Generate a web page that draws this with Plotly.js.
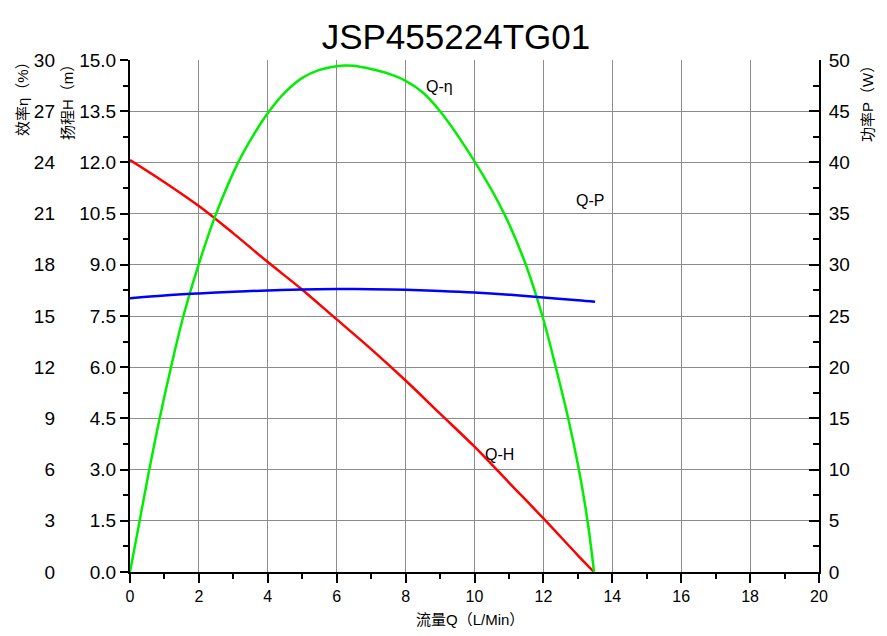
<!DOCTYPE html>
<html>
<head>
<meta charset="utf-8">
<script src="https://cdn.plot.ly/plotly-3.0.1.min.js"></script>
<style>
  html, body { margin: 0; padding: 0; background: #fff; }
  #chart { width: 887px; height: 636px; }
</style>
</head>
<body>
<div id="chart"></div>
<script>
// Q-H curve (flow L/Min -> head m)
const flowH = [0, 1, 2, 3, 4, 5, 6, 7, 8, 9, 10, 11, 12, 13, 13.47];
const head = [12.07, 11.42, 10.72, 9.92, 9.08, 8.27, 7.40, 6.53, 5.61, 4.64, 3.67, 2.62, 1.57, 0.49, 0];

// Q-eta curve (flow -> efficiency %)
const flowEff = [0, 0.28, 0.56, 0.86, 1.19, 1.55, 1.99, 2.5, 3.14, 3.6, 4.04, 4.5, 5, 5.5, 6, 6.24, 6.5, 7, 7.5, 8, 8.5, 9.0, 10.02, 10.86, 11.49, 11.97, 12.36, 12.72, 13.03, 13.28, 13.47];
const efficiency = [0, 3, 6, 9, 12, 15, 18, 21, 24, 25.66, 27, 28.1, 28.95, 29.42, 29.64, 29.68, 29.66, 29.47, 29.2, 28.78, 28.1, 27, 24, 21, 18, 15, 12, 9, 6, 3, 0];

// Q-P curve (flow -> power W)
const flowP = [0, 1, 2, 3, 4, 5, 6, 7, 8, 9, 10, 11, 12, 13, 13.5];
const power = [26.73, 27.0, 27.2, 27.37, 27.5, 27.6, 27.64, 27.62, 27.56, 27.45, 27.3, 27.08, 26.8, 26.55, 26.4];

const chartTitle = 'JSP455224TG01';
const FONT = '"Liberation Sans", Arial, "Noto Sans CJK SC", sans-serif';
const GRID = '#8c8c8c';

const traces = [
  {
    type: 'scatter', mode: 'lines', name: 'Q-H',
    x: flowH, y: head, xaxis: 'x', yaxis: 'y',
    line: { color: '#ff0000', width: 2.5, shape: 'spline', smoothing: 1 }
  },
  {
    type: 'scatter', mode: 'lines', name: 'Q-η',
    x: flowEff, y: efficiency, xaxis: 'x', yaxis: 'y2',
    line: { color: '#00ee00', width: 2.5, shape: 'spline', smoothing: 1 }
  },
  {
    type: 'scatter', mode: 'lines', name: 'Q-P',
    x: flowP, y: power, xaxis: 'x', yaxis: 'y3',
    line: { color: '#0000ff', width: 2.5, shape: 'spline', smoothing: 1 }
  }
];

const xTickFont = { family: FONT, size: 16, color: '#000' };
const yTickFont = { family: FONT, size: 19, color: '#000' };
const axisTitleFont = { family: FONT, size: 15, color: '#000' };
const curveLabelFont = { family: FONT, size: 16, color: '#000' };

const layout = {
  width: 887,
  height: 636,
  margin: { l: 40, r: 68, t: 60, b: 64 },
  paper_bgcolor: '#fff',
  plot_bgcolor: '#fff',
  showlegend: false,
  font: { family: FONT, color: '#000' },
  title: {
    text: chartTitle,
    font: { family: FONT, size: 35, color: '#000' },
    x: 0.514, xanchor: 'center', xref: 'container',
    y: 0.942, yanchor: 'middle', yref: 'container'
  },
  xaxis: {
    domain: [90 / 779, 1],
    range: [0, 20], dtick: 2, tick0: 0,
    ticks: 'outside', ticklen: 9, tickwidth: 2, tickcolor: '#000',
    minor: { dtick: 1, ticks: 'outside', ticklen: 5, tickwidth: 2, tickcolor: '#000', showgrid: false },
    showline: true, linewidth: 2, linecolor: '#000',
    showgrid: true, gridcolor: GRID, gridwidth: 1,
    zeroline: false, anchor: 'y',
    tickfont: xTickFont
  },
  xaxis2: {
    overlaying: 'x', side: 'top', anchor: 'y',
    range: [0, 20], dtick: 1, tick0: 0,
    ticks: 'inside', ticklen: 6, tickwidth: 2, tickcolor: '#000',
    showticklabels: false,
    showline: true, linewidth: 2, linecolor: '#000',
    showgrid: false, zeroline: false
  },
  yaxis: {
    range: [0, 15], dtick: 1.5, tick0: 0, tickformat: '.1f',
    ticks: 'outside', ticklen: 8, tickwidth: 2, tickcolor: '#000',
    minor: { dtick: 0.75, ticks: 'outside', ticklen: 5, tickwidth: 2, tickcolor: '#000', showgrid: false },
    showline: true, linewidth: 2, linecolor: '#000',
    showgrid: true, gridcolor: GRID, gridwidth: 1,
    zeroline: false, anchor: 'x',
    tickfont: yTickFont
  },
  yaxis2: {
    overlaying: 'y', side: 'left', anchor: 'free', position: 15 / 779,
    range: [0, 30], dtick: 3, tick0: 0,
    ticks: '', showline: false, showgrid: false, zeroline: false,
    tickfont: yTickFont
  },
  yaxis3: {
    overlaying: 'y', side: 'right', anchor: 'x',
    range: [0, 50], dtick: 5, tick0: 0,
    ticks: 'inside', ticklen: 10, tickwidth: 2, tickcolor: '#000',
    minor: { dtick: 2.5, ticks: 'inside', ticklen: 6, tickwidth: 2, tickcolor: '#000', showgrid: false },
    showline: true, linewidth: 2, linecolor: '#000',
    showgrid: false, zeroline: false,
    ticklabelstandoff: 4,
    tickfont: yTickFont
  },
  annotations: [
    { text: '效率η（%）', xref: 'paper', yref: 'paper', x: -0.0231, y: 0.9316,
      xanchor: 'center', yanchor: 'middle',
      textangle: -90, showarrow: false, font: axisTitleFont },
    { text: '扬程H（m）', xref: 'paper', yref: 'paper', x: 0.0347, y: 0.9238,
      xanchor: 'center', yanchor: 'middle',
      textangle: -90, showarrow: false, font: axisTitleFont },
    { text: '功率P（W）', xref: 'paper', yref: 'paper', x: 1.0629, y: 0.9219,
      xanchor: 'center', yanchor: 'middle',
      textangle: -90, showarrow: false, font: axisTitleFont },
    { text: '流量Q（L/Min）', xref: 'paper', yref: 'paper', x: 0.552, y: -0.0918,
      xanchor: 'center', yanchor: 'middle',
      showarrow: false, font: axisTitleFont },
    { text: 'Q-η', xref: 'x', yref: 'y', x: 8.97, y: 14.21, showarrow: false,
      xanchor: 'center', yanchor: 'middle', font: curveLabelFont },
    { text: 'Q-P', xref: 'x', yref: 'y', x: 13.35, y: 10.89, showarrow: false,
      xanchor: 'center', yanchor: 'middle', font: curveLabelFont },
    { text: 'Q-H', xref: 'x', yref: 'y', x: 10.74, y: 3.43, showarrow: false,
      xanchor: 'center', yanchor: 'middle', font: curveLabelFont }
  ]
};

Plotly.newPlot('chart', traces, layout, { displayModeBar: false, staticPlot: true });
</script>
</body>
</html>
